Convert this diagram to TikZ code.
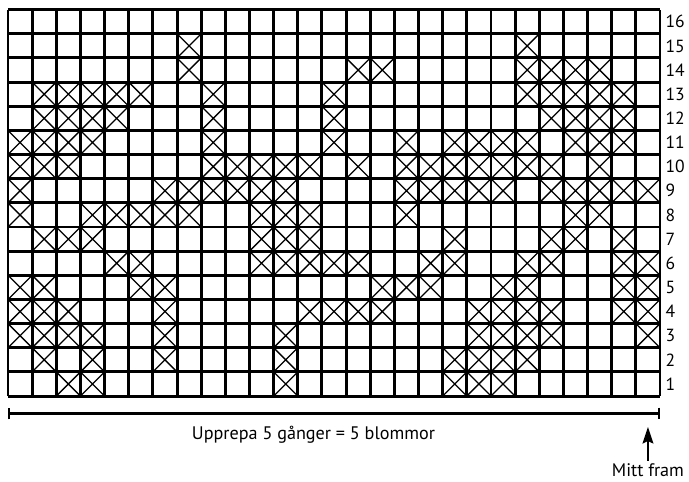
\documentclass[tikz,border=0pt]{standalone}
\usepackage{fontspec}
\setmainfont{PT Sans}
\usepackage{tikz}
\usetikzlibrary{arrows.meta,positioning}

\begin{document}
\begin{tikzpicture}[
  x=0.7245cm, y=0.7245cm,
  gridline/.style={line width=2.5pt},
  stitch/.style={line width=1.1pt},
  rowlabel/.style={anchor=west, inner sep=0pt, font=\fontsize{15}{17}\selectfont},
  note/.style={inner sep=1pt, font=\fontsize{15.5}{18}\selectfont},
  span/.style={{Bar[width=10pt]}-{Bar[width=10pt]}, line width=2pt},
  arrow/.style={-{Stealth[length=14pt,width=9pt,inset=2pt]}, line width=2.3pt}
]
\useasboundingbox (-0.331,-3.52) rectangle (28.2,16.4);

% stitches, row by row
\foreach \r/\cols in {
  15/{8,22},
  14/{8,15,16,22,23,24,25},
  13/{2,3,4,5,6,9,14,22,23,24,25,26},
  12/{2,3,4,5,9,14,23,24,25,26},
  11/{1,2,3,4,9,14,17,19,20,21,22,24,25,26},
  10/{1,2,3,9,10,11,12,13,15,17,18,19,20,21,22,23,25},
  9/{1,7,8,9,10,11,12,17,18,19,20,21,23,24,25,26,27},
  8/{1,4,5,6,7,8,11,12,13,17,24,25},
  7/{2,3,4,11,12,13,19,23,24,26},
  6/{5,6,11,12,13,14,15,18,19,22,23,26,27},
  5/{1,2,6,7,16,17,18,21,22,26,27},
  4/{1,2,3,7,13,14,15,16,20,21,22,23,26,27},
  3/{1,2,3,4,7,12,20,21,22,23,27},
  2/{2,4,7,12,19,20,21,22},
  1/{3,4,12,19,20,21}}
  \foreach \c in \cols
    \draw[stitch] (\c-1,\r-1) -- (\c,\r) (\c-1,\r) -- (\c,\r-1);

\draw[gridline, step=1] (0,0) grid (27,16);

% row numbers
\foreach \r in {1,...,16}
  \node[rowlabel] (row\r) at (27.22,\r-0.5) {\r};

% repeat span
\coordinate (spanl) at (0,-0.72);
\coordinate (spanr) at (27,-0.72);
\draw[span] (spanl) -- (spanr);
\node[note] (repeat) at (12.65,-1.62) {Upprepa 5 gånger = 5 blommor};

% centre front
\node[note] (mitt) at (26.5,-3.06) {Mitt fram};
\coordinate (mittpil) at (26.5,-1.28);
\draw[arrow] ([yshift=1pt]mitt.north -| mittpil) -- (mittpil);
\end{tikzpicture}
\end{document}
